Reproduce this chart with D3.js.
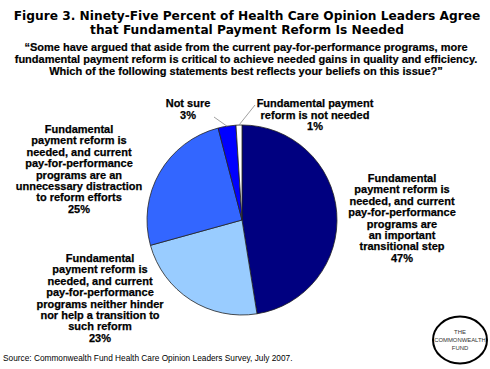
<!DOCTYPE html>
<html>
<head>
<meta charset="utf-8">
<script src="https://cdn.jsdelivr.net/npm/d3@7"></script>
<style>
  html, body { margin: 0; padding: 0; background: #fff; }
  svg { display: block; }
  text { font-family: "Liberation Sans", Arial, sans-serif; }
</style>
</head>
<body>
<svg id="chart" width="490" height="369"></svg>
<script>
// ---- data ----
const categories = [
  "Fundamental payment reform is needed, and current pay-for-performance programs are an important transitional step",
  "Fundamental payment reform is needed, and current pay-for-performance programs neither hinder nor help a transition to such reform",
  "Fundamental payment reform is needed, and current pay-for-performance programs are an unnecessary distraction to reform efforts",
  "Not sure",
  "Fundamental payment reform is not needed"
];
const values = [47, 23, 25, 3, 1];
const sliceColors = ["#000080", "#99CCFF", "#3366FF", "#0000FF", "#FFFFFF"];
const labelLines = [
  ["Fundamental", "payment reform is", "needed, and current", "pay-for-performance", "programs are", "an important", "transitional step", "47%"],
  ["Fundamental", "payment reform is", "needed, and current", "pay-for-performance", "programs neither hinder", "nor help a transition to", "such reform", "23%"],
  ["Fundamental", "payment reform is", "needed, and current", "pay-for-performance", "programs are an", "unnecessary distraction", "to reform efforts", "25%"],
  ["Not sure", "3%"],
  ["Fundamental payment", "reform is not needed", "1%"]
];
const titleLines = [
  "Figure 3. Ninety-Five Percent of Health Care Opinion Leaders Agree",
  "that Fundamental Payment Reform Is Needed"
];
const questionLines = [
  "\u201CSome have argued that aside from the current pay-for-performance programs, more",
  "fundamental payment reform is critical to achieve needed gains in quality and efficiency.",
  "Which of the following statements best reflects your beliefs on this issue?\u201D"
];
const sourceText = "Source: Commonwealth Fund Health Care Opinion Leaders Survey, July 2007.";
const logoLines = ["THE", "COMMONWEALTH", "FUND"];

// ---- layout ----
const svg = d3.select("#chart");
const cx = 242, cy = 220, R = 95;

// title
svg.append("g").selectAll("text").data(titleLines).join("text")
  .attr("x", 247).attr("y", (d, i) => 19.5 + i * 14)
  .attr("text-anchor", "middle")
  .style("font-family", "'DejaVu Sans', sans-serif")
  .attr("font-size", 12.2).attr("font-weight", "bold")
  .text(d => d);

svg.append("g").selectAll("text").data(questionLines).join("text")
  .attr("x", 246).attr("y", (d, i) => 51 + i * 12)
  .attr("text-anchor", "middle")
  .attr("font-size", 11).attr("font-weight", "bold")
  .attr("stroke", "#000").attr("stroke-width", 0.2)
  .text(d => d);

// pie
const pie = d3.pie().sort(null).value(d => d);
const arcs = pie(values);
const arc = d3.arc().innerRadius(0).outerRadius(R);
const g = svg.append("g").attr("transform", `translate(${cx},${cy})`);
g.selectAll("path").data(arcs).join("path")
  .attr("d", arc)
  .attr("fill", (d, i) => sliceColors[i])
  .attr("stroke", "#222")
  .attr("stroke-width", 0.8);

// leader lines for the small slices
const outerArc = d3.arc().innerRadius(R).outerRadius(R);
const leaderEnds = [null, null, null, [-28, -103], [13, -115]];
arcs.forEach((a, i) => {
  if (!leaderEnds[i]) return;
  const p = outerArc.centroid(a);
  g.append("line")
    .attr("x1", p[0]).attr("y1", p[1])
    .attr("x2", leaderEnds[i][0]).attr("y2", leaderEnds[i][1])
    .attr("stroke", "#888").attr("stroke-width", 0.8);
});

// labels
const labelPos = [[402, 182], [100, 262], [79, 133], [188, 107], [315, 107]];
const lineH = [11.4, 11.4, 11.4, 12, 11.5];
labelLines.forEach((lines, i) => {
  const t = svg.append("text")
    .attr("text-anchor", "middle")
    .attr("font-size", 11).attr("font-weight", "bold")
    .attr("stroke", "#000").attr("stroke-width", 0.25);
  lines.forEach((ln, j) => {
    t.append("tspan")
      .attr("x", labelPos[i][0])
      .attr("y", labelPos[i][1] + j * lineH[i])
      .text(ln);
  });
});

// source
svg.append("text")
  .attr("x", 3).attr("y", 361)
  .attr("font-size", 8.3)
  .text(sourceText);

// logo
const logo = svg.append("g").attr("transform", "translate(460,340)");
logo.append("ellipse").attr("rx", 27).attr("ry", 23.5)
  .attr("fill", "#fff").attr("stroke", "#000").attr("stroke-width", 2);
logo.selectAll("text").data(logoLines).join("text")
  .attr("x", 0).attr("y", (d, i) => -6 + i * 8)
  .attr("text-anchor", "middle")
  .attr("font-size", 5.9)
  .attr("fill", "#333")
  .text(d => d);
</script>
</body>
</html>
